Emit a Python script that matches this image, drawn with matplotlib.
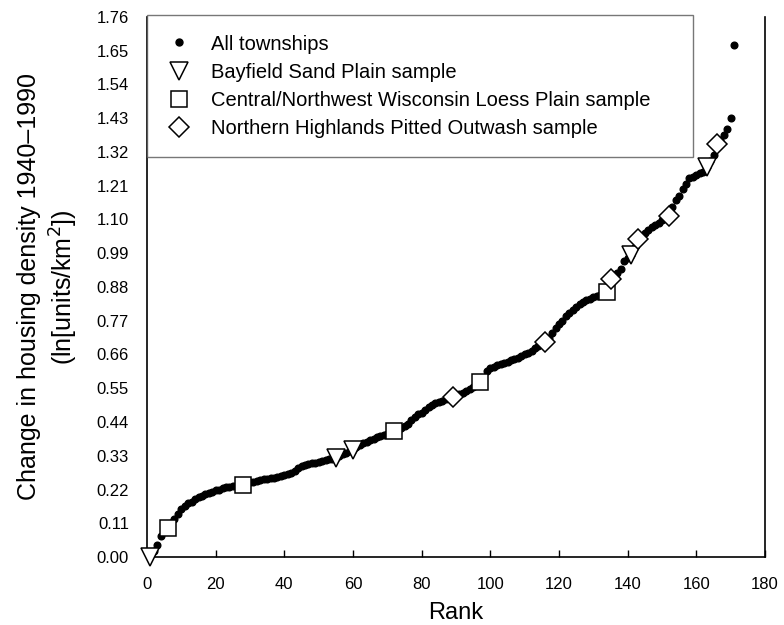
import matplotlib
matplotlib.use("Agg")
import matplotlib.pyplot as plt
from matplotlib.lines import Line2D

plt.rcParams['font.family'] = ['Liberation Sans', 'DejaVu Sans']

# Change in housing density (ln units/km2) for all townships, ordered by rank 1..171
values = [
    0.00, 0.02, 0.04, 0.07, 0.085, 0.095, 0.11, 0.125, 0.14, 0.155,
    0.165, 0.175, 0.18, 0.19, 0.195, 0.20, 0.205, 0.21, 0.213, 0.217,
    0.22, 0.224, 0.227, 0.229, 0.231, 0.233, 0.234, 0.236, 0.24, 0.243,
    0.246, 0.249, 0.251, 0.253, 0.255, 0.257, 0.259, 0.261, 0.263, 0.266,
    0.269, 0.273, 0.28, 0.29, 0.297, 0.30, 0.302, 0.305, 0.308, 0.31,
    0.313, 0.316, 0.318, 0.32, 0.322, 0.328, 0.335, 0.34, 0.345, 0.35,
    0.358, 0.365, 0.37, 0.375, 0.38, 0.385, 0.39, 0.395, 0.398, 0.402,
    0.406, 0.41, 0.415, 0.42, 0.428, 0.435, 0.445, 0.455, 0.465, 0.47,
    0.478, 0.488, 0.497, 0.502, 0.506, 0.51, 0.514, 0.517, 0.52, 0.525,
    0.53, 0.535, 0.54, 0.548, 0.555, 0.563, 0.57, 0.585, 0.605, 0.615,
    0.62, 0.625, 0.63, 0.633, 0.637, 0.641, 0.645, 0.65, 0.655, 0.66,
    0.665, 0.672, 0.68, 0.688, 0.695, 0.70, 0.715, 0.73, 0.745, 0.76,
    0.77, 0.785, 0.795, 0.805, 0.815, 0.825, 0.83, 0.836, 0.842, 0.847,
    0.851, 0.855, 0.86, 0.865, 0.905, 0.915, 0.925, 0.94, 0.965, 0.975,
    0.985, 1.01, 1.035, 1.045, 1.055, 1.065, 1.075, 1.082, 1.09, 1.098,
    1.105, 1.11, 1.14, 1.165, 1.175, 1.20, 1.215, 1.235, 1.24, 1.245,
    1.25, 1.255, 1.27, 1.29, 1.31, 1.345, 1.36, 1.375, 1.395, 1.43,
    1.67,
]
ranks = list(range(1, len(values) + 1))

# Ranks of the sample townships
bayfield_ranks = [1, 55, 60, 141, 163]
loess_ranks = [6, 28, 72, 97, 134]
highlands_ranks = [89, 116, 135, 143, 152, 166]

xticks = [0, 20, 40, 60, 80, 100, 120, 140, 160, 180]
yticks = [0.00, 0.11, 0.22, 0.33, 0.44, 0.55, 0.66, 0.77, 0.88, 0.99,
          1.10, 1.21, 1.32, 1.43, 1.54, 1.65, 1.76]

labels = ["All townships", "Bayfield Sand Plain sample",
          "Central/Northwest Wisconsin Loess Plain sample",
          "Northern Highlands Pitted Outwash sample"]

fig = plt.figure(figsize=(7.84, 6.25), dpi=100)
ax = fig.add_axes([147/784, 1 - 557/625, (765-147)/784, (557-17)/625])

ax.plot(ranks, values, linestyle='none', marker='o', ms=4.8,
        color='black', zorder=2)

def sel(rs):
    return rs, [values[r - 1] for r in rs]

mk = dict(linestyle='none', mfc='white', mec='black', mew=1.1, zorder=3,
          clip_on=False)
bx, by = sel(bayfield_ranks)
ax.plot(bx, by, marker='v', ms=13, **mk)
lx, ly = sel(loess_ranks)
ax.plot(lx, ly, marker='s', ms=11.5, **mk)
hx, hy = sel(highlands_ranks)
ax.plot(hx, hy, marker='D', ms=10.5, **mk)

ax.set_xlim(0, 180)
ax.set_ylim(0, 1.76)
ax.set_xticks(xticks)
ax.set_yticks(yticks)
ax.set_yticklabels([f"{v:.2f}" for v in yticks])
ax.tick_params(axis='x', direction='in', length=5, width=1, labelsize=12, pad=14.5)
ax.tick_params(axis='y', length=0, labelsize=12, pad=13)
ax.spines['top'].set_visible(False)
for s in ['left', 'right', 'bottom']:
    ax.spines[s].set_linewidth(1.2)

ax.set_xlabel("Rank", fontsize=17, labelpad=7)
ax.set_ylabel("Change in housing density 1940\u20131990\n(ln[units/km$^2$])",
              fontsize=18, labelpad=12, linespacing=1.25)

handles = [
    Line2D([], [], linestyle='none', marker='o', ms=5, color='black'),
    Line2D([], [], linestyle='none', marker='v', ms=13, mfc='white', mec='black', mew=1.1),
    Line2D([], [], linestyle='none', marker='s', ms=11.5, mfc='white', mec='black', mew=1.1),
    Line2D([], [], linestyle='none', marker='D', ms=10.5, mfc='white', mec='black', mew=1.1),
]
leg = ax.legend(handles, labels, loc='upper left',
                bbox_to_anchor=(0, 1.003, (693-147)/(765-147), 0), mode='expand',
                borderaxespad=0, fontsize=14.5, frameon=True, fancybox=False,
                handletextpad=1.0, labelspacing=0.46, borderpad=0.95,
                handlelength=1.25)
leg.get_frame().set_edgecolor('#555555')
leg.get_frame().set_linewidth(1.0)

fig.savefig("out.png", dpi=100)
